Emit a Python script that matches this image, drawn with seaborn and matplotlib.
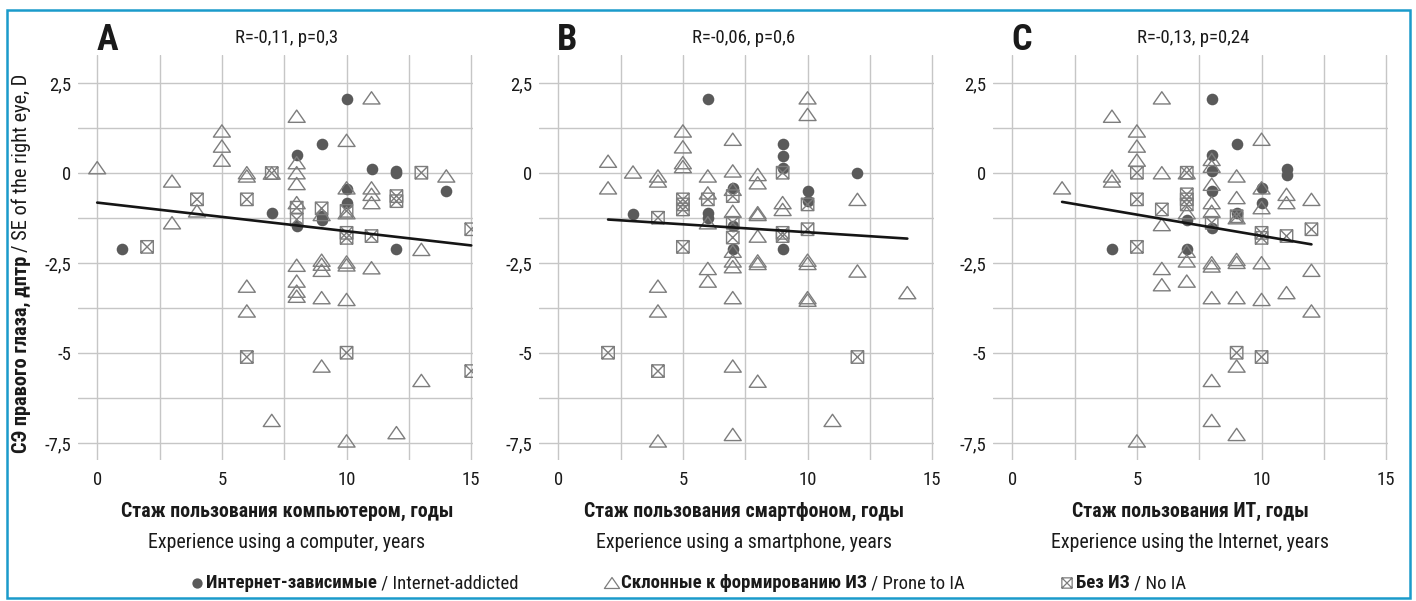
import numpy as np
import matplotlib
matplotlib.use("Agg")
import matplotlib.pyplot as plt
import seaborn as sns
from matplotlib import font_manager
from matplotlib.path import Path
from matplotlib.patches import Rectangle
from matplotlib.ticker import FixedLocator, MultipleLocator, FuncFormatter

# ---- data ----
# Panel A: computer experience, years
a_add_x = [1, 7, 8, 8, 9, 9, 9, 10, 10, 10, 11, 12, 12, 12, 14]
a_add_y = [-2.12, -1.1, 0.49, -1.47, 0.81, -1.18, -1.29, 2.05, -0.45, -0.82, 0.10, 0.06, 0.0, -2.12, -0.5]
a_pro_x = [0, 3, 3, 4, 5, 5, 5, 6, 6, 6, 6, 7, 7, 8, 8, 8, 8, 8, 8, 8, 8, 8,
           9, 9, 9, 9, 9, 9, 10, 10, 10, 10, 10, 10, 10, 11, 11, 11, 11, 11, 12, 13, 13, 14]
a_pro_y = [0.15, -0.22, -1.38, -1.05, 1.17, 0.75, 0.36, 0.01, -0.08, -3.14, -3.83, 0.0, -6.87,
           1.58, 0.29, 0.01, -0.29, -0.82, -2.56, -3.0, -3.28, -3.42,
           -1.15, -2.42, -2.53, -2.7, -3.46, -5.36, 0.91, -0.41, -1.1, -2.47, -2.55, -3.51, -7.44,
           2.09, -0.41, -0.59, -0.82, -2.63, -7.21, -2.12, -5.76, -0.08]
a_no_x = [2, 4, 6, 6, 7, 8, 8, 9, 10, 10, 10, 10, 11, 12, 12, 13, 15, 15]
a_no_y = [-2.05, -0.73, -0.73, -5.11, 0.0, -0.96, -1.29, -0.98, -1.05, -1.66, -1.8, -4.99,
          -1.75, -0.64, -0.78, 0.01, -1.56, -5.5]
a_fit_x = [0, 15]
a_fit_y = [-0.82, -2.01]

# Panel B: smartphone experience, years
b_add_x = [3, 6, 6, 6, 7, 7, 7, 9, 9, 9, 9, 10, 10, 12]
b_add_y = [-1.13, 2.05, -1.12, -1.24, -0.41, -1.47, -2.12, 0.8, 0.47, 0.15, -2.12, -0.5, -0.78, 0.0]
b_pro_x = [2, 2, 3, 4, 4, 4, 4, 4, 5, 5, 5, 5, 6, 6, 6, 6, 6, 7, 7, 7, 7, 7, 7, 7, 7, 7, 7,
           8, 8, 8, 8, 8, 8, 8, 8, 9, 9, 10, 10, 10, 10, 10, 10, 11, 12, 12, 14]
b_pro_y = [0.33, -0.41, 0.03, -0.08, -0.22, -3.14, -3.83, -7.44, 1.17, 0.73, 0.29, 0.18,
           -0.08, -0.55, -1.38, -2.65, -3.0, 0.94, 0.06, -0.45, -1.06, -2.17, -2.44, -2.6, -3.46,
           -5.36, -7.26, -0.04, -0.27, -1.1, -1.15, -1.75, -2.44, -2.51, -5.78, -0.82, -1.01,
           2.09, 1.63, -2.42, -2.51, -3.46, -3.53, -6.87, -0.73, -2.72, -3.32]
b_no_x = [2, 4, 4, 5, 5, 5, 5, 6, 7, 7, 7, 9, 9, 9, 10, 10, 12]
b_no_y = [-4.99, -1.24, -5.5, -0.73, -0.87, -1.01, -2.05, -0.73, -0.64, -1.38, -1.79, 0.01,
          -1.66, -1.75, -0.87, -1.56, -5.11]
b_fit_x = [2, 14]
b_fit_y = [-1.29, -1.82]

# Panel C: Internet experience, years
c_add_x = [4, 7, 7, 8, 8, 8, 8, 8, 9, 9, 10, 10, 11, 11]
c_add_y = [-2.12, -1.29, -2.12, 2.05, 0.49, 0.06, -0.5, -1.52, 0.8, -1.12, -0.41, -0.82, 0.1, -0.04]
c_pro_x = [2, 4, 4, 4, 5, 5, 5, 5, 6, 6, 6, 6, 6, 7, 7, 7, 7, 7, 8, 8, 8, 8, 8, 8, 8, 8, 8, 8,
           9, 9, 9, 9, 9, 9, 9, 9, 10, 10, 10, 10, 10, 11, 11, 11, 12, 12, 12]
c_pro_y = [-0.41, 1.58, -0.08, -0.22, 1.17, 0.75, 0.36, -7.44, 2.09, 0.01, -1.43, -2.65, -3.1,
           0.01, -1.1, -2.17, -2.44, -3.0, 0.38, 0.19, -0.31, -0.82, -1.06, -2.49, -2.58, -3.46,
           -5.76, -6.87, -0.08, -0.68, -1.24, -2.4, -2.48, -3.46, -5.36, -7.26, 0.94, -0.41,
           -0.96, -2.49, -3.51, -0.59, -0.82, -3.32, -0.73, -2.7, -3.83]
c_no_x = [5, 5, 5, 6, 7, 7, 7, 7, 8, 9, 9, 10, 10, 10, 11, 12]
c_no_y = [0.01, -0.73, -2.05, -1.01, 0.01, -0.59, -0.73, -0.87, -1.38, -1.2, -4.99, -1.66,
          -1.8, -5.11, -1.75, -1.56]
c_fit_x = [2, 12]
c_fit_y = [-0.8, -1.98]

panel_letters = ["A", "B", "C"]
stats_labels = ["R=-0,11, p=0,3", "R=-0,06, p=0,6", "R=-0,13, p=0,24"]
xlabels_ru = ["Стаж пользования компьютером, годы",
              "Стаж пользования смартфоном, годы",
              "Стаж пользования ИТ, годы"]
xlabels_en = ["Experience using a computer, years",
              "Experience using a smartphone, years",
              "Experience using the Internet, years"]
x_ticks = [0, 5, 10, 15]
y_ticks = [-7.5, -5, -2.5, 0, 2.5]

panels = [
    (a_add_x, a_add_y, a_pro_x, a_pro_y, a_no_x, a_no_y, a_fit_x, a_fit_y),
    (b_add_x, b_add_y, b_pro_x, b_pro_y, b_no_x, b_no_y, b_fit_x, b_fit_y),
    (c_add_x, c_add_y, c_pro_x, c_pro_y, c_no_x, c_no_y, c_fit_x, c_fit_y),
]

# ---- style ----
sns.set_theme(style="white")
installed = {f.name for f in font_manager.fontManager.ttflist}
narrow = next((f for f in ["Liberation Sans Narrow", "Roboto Condensed", "Arial Narrow",
                           "Liberation Sans"] if f in installed), "DejaVu Sans")
plt.rcParams["font.family"] = [narrow, "DejaVu Sans"]

W, H = 1416, 601
fig = plt.figure(figsize=(W / 100, H / 100), dpi=100, facecolor="white")

# open triangle (wider than tall) and a square with a cross
tri_marker = Path([(0, 0.72), (-1, -0.72), (1, -0.72), (0, 0.72)],
                  [Path.MOVETO, Path.LINETO, Path.LINETO, Path.CLOSEPOLY])
box_marker = Path([(-1, -1), (1, -1), (1, 1), (-1, 1), (-1, -1),
                   (-1, -1), (1, 1), (-1, 1), (1, -1)],
                  [Path.MOVETO, Path.LINETO, Path.LINETO, Path.LINETO, Path.CLOSEPOLY,
                   Path.MOVETO, Path.LINETO, Path.MOVETO, Path.LINETO])

dark = "#5a5a5a"
mid = "#7d7d7d"
grid_col = "#c6c6c6"
txt = "#1a1a1a"

def fx(x):
    return x / W

def fy(y):
    return 1 - y / H

comma = FuncFormatter(lambda v, pos: f"{v:g}".replace(".", ","))

axes_left = [78, 539, 993]
title_centers = [287, 744, 1193]
label_centers = [287, 744, 1190]

for i, (axl, data) in enumerate(zip(axes_left, panels)):
    add_x, add_y, pro_x, pro_y, no_x, no_y, fit_x, fit_y = data
    ax = fig.add_axes([fx(axl), fy(460), 395 / W, 405 / H])
    ax.set_axisbelow(True)

    sns.scatterplot(x=add_x, y=add_y, ax=ax, marker="o", s=70, color=dark,
                    edgecolor=dark, linewidth=0, legend=False, zorder=3)
    sns.scatterplot(x=pro_x, y=pro_y, ax=ax, marker=tri_marker, s=150, color=mid,
                    facecolor="none", edgecolor=mid, linewidth=1.0, legend=False, zorder=4)
    sns.scatterplot(x=no_x, y=no_y, ax=ax, marker=box_marker, s=80, color=mid,
                    facecolor="none", edgecolor=mid, linewidth=1.0, legend=False, zorder=4)
    sns.lineplot(x=fit_x, y=fit_y, ax=ax, color="#151515", linewidth=1.9, zorder=5)

    ax.set_xlim(-0.77, 15.07)
    ax.set_ylim(-7.97, 3.28)
    ax.xaxis.set_major_locator(FixedLocator(x_ticks))
    ax.xaxis.set_minor_locator(MultipleLocator(2.5))
    ax.yaxis.set_major_locator(FixedLocator(y_ticks))
    ax.yaxis.set_minor_locator(MultipleLocator(1.25))
    ax.xaxis.set_major_formatter(comma)
    ax.yaxis.set_major_formatter(comma)
    ax.grid(True, which="both", color=grid_col, linewidth=1.0)
    ax.tick_params(which="both", length=0, labelsize=13.5, colors=txt)
    ax.tick_params(axis="x", pad=8)
    ax.tick_params(axis="y", pad=5)
    for sp in ax.spines.values():
        sp.set_visible(False)
    ax.set_xlabel("")
    ax.set_ylabel("")

    # panel letter and statistics
    x0_px = axl + 0.77 / (15.07 + 0.77) * 395
    fig.text(fx(x0_px - 1), fy(40), panel_letters[i], fontsize=26, fontweight="bold",
             ha="left", va="center", color=txt)
    fig.text(fx(title_centers[i]), fy(38), stats_labels[i], fontsize=13.5,
             ha="center", va="center", color=txt)
    fig.text(fx(label_centers[i]), fy(511), xlabels_ru[i], fontsize=14.3, fontweight="bold",
             ha="center", va="center", color=txt)
    fig.text(fx(label_centers[i]), fy(542), xlabels_en[i], fontsize=14.3,
             ha="center", va="center", color=txt)

fig.canvas.draw()
renderer = fig.canvas.get_renderer()

# y label: bold Russian part then regular English part, rotated, spanning y=453..75 px
yl_parts = []
fs_y = 14.0
for attempt in range(3):
    for t in yl_parts:
        t.remove()
    t1 = fig.text(fx(21), fy(453), "СЭ правого глаза, дптр", rotation=90, fontsize=fs_y,
                  fontweight="bold", ha="center", va="bottom", color=txt)
    bb = t1.get_window_extent(renderer)
    t2 = fig.text(fx(21), (bb.y1 + 4) / H, "/ SE of the right eye, D", rotation=90,
                  fontsize=fs_y, ha="center", va="bottom", color=txt)
    yl_parts = [t1, t2]
    top = t2.get_window_extent(renderer).y1
    span = top - (H - 453)
    fs_y = fs_y * 378 / span

# legend row at the bottom
leg_ax = fig.add_axes([0, 0, 1, 1], facecolor="none")
leg_ax.set_xlim(0, W)
leg_ax.set_ylim(H, 0)
leg_ax.axis("off")

leg_items = [
    (197, "o", "Интернет-зависимые", " / Internet-addicted"),
    (612, tri_marker, "Склонные к формированию ИЗ", " / Prone to IA"),
    (1067, box_marker, "Без ИЗ", " / No IA"),
]
leg_y = 583
for mx, mk, bold_txt, reg_txt in leg_items:
    if mk == "o":
        leg_ax.scatter([mx], [leg_y], marker="o", s=55, color=dark, linewidth=0)
    elif mk is tri_marker:
        leg_ax.scatter([mx], [leg_y], marker=mk, s=120, facecolor="none", edgecolor=mid,
                       linewidth=0.9)
    else:
        leg_ax.scatter([mx], [leg_y], marker=mk, s=55, facecolor="none", edgecolor=mid,
                       linewidth=0.9)
    tb = fig.text(fx(mx + 9), fy(leg_y), bold_txt, fontsize=13.5, fontweight="bold",
                  ha="left", va="center", color=txt)
    bb = tb.get_window_extent(renderer)
    fig.text(bb.x1 / W, fy(leg_y), reg_txt, fontsize=13.5, ha="left", va="center",
             color=txt)

# blue frame around the figure
fig.patches.append(Rectangle((fx(7), fy(598)), (1410 - 7) / W, (598 - 10) / H,
                             transform=fig.transFigure, fill=False,
                             edgecolor="#1a9bcb", linewidth=1.8))

fig.savefig("out.png", dpi=100, facecolor="white")
